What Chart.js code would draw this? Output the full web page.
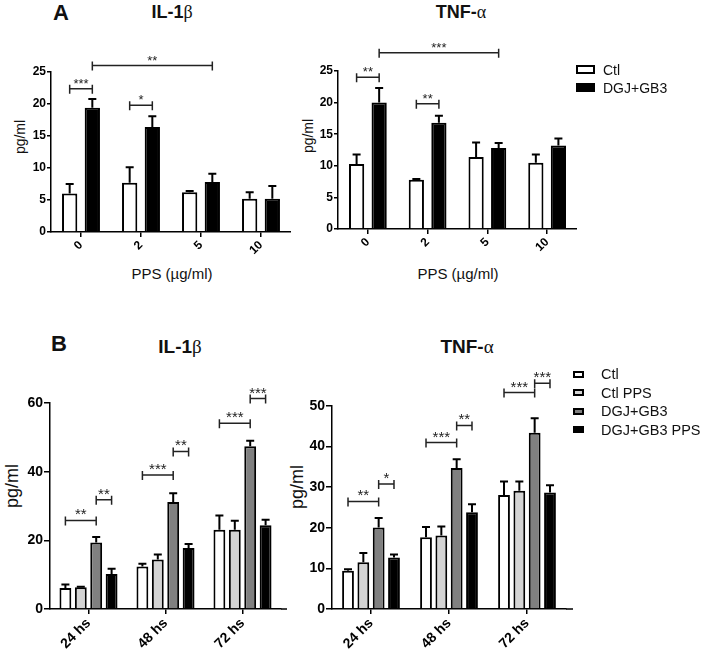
<!DOCTYPE html>
<html>
<head>
<meta charset="utf-8">
<script src="https://cdn.jsdelivr.net/npm/chart.js@4.4.1/dist/chart.umd.min.js"></script>
<style>
  body { margin: 0; background: #fff; width: 710px; height: 657px; position: relative; overflow: hidden;
         font-family: "Liberation Sans", Arial, sans-serif; color: #111; }
  .panel { position: absolute; }
  .t { position: absolute; white-space: nowrap; transform: translate(-50%, -50%); line-height: 1; }
  .rot { transform: translate(-50%, -50%) rotate(-90deg); }
  .b { font-weight: bold; }
  .g { font-family: "Liberation Serif", "DejaVu Serif", serif; font-weight: normal; }
  .leg { position: absolute; font-size: 14px; }
  .leg div { position: absolute; white-space: nowrap; }
  .sw { position: absolute; box-sizing: border-box; border: 2px solid #000; }
</style>
</head>
<body>

<div class="t b" style="left:61px;top:13px;font-size:22px">A</div>
<div class="t b" style="left:172px;top:12px;font-size:18px">IL-1<span class="g">β</span></div>
<div class="t b" style="left:461px;top:12px;font-size:18px">TNF-<span class="g">α</span></div>
<div class="t rot" style="left:20px;top:137px;font-size:14px">pg/ml</div>
<div class="t rot" style="left:308px;top:136px;font-size:14px">pg/ml</div>
<div class="t" style="left:172px;top:273px;font-size:15px">PPS (µg/ml)</div>
<div class="t" style="left:458px;top:273px;font-size:15px">PPS (µg/ml)</div>

<div class="t b" style="left:59px;top:344px;font-size:22px">B</div>
<div class="t b" style="left:180px;top:346px;font-size:19px">IL-1<span class="g">β</span></div>
<div class="t b" style="left:467px;top:346px;font-size:19px">TNF-<span class="g">α</span></div>
<div class="t rot" style="left:12px;top:486px;font-size:18px">pg/ml</div>
<div class="t rot" style="left:297px;top:487px;font-size:18px">pg/ml</div>

<div class="panel" style="left:0;top:0"><canvas id="il1Dose" width="291" height="262"></canvas></div>
<div class="panel" style="left:288px;top:0"><canvas id="tnfDose" width="289" height="259"></canvas></div>
<div class="panel" style="left:0;top:330px"><canvas id="il1Time" width="290" height="327"></canvas></div>
<div class="panel" style="left:282px;top:330px"><canvas id="tnfTime" width="297" height="327"></canvas></div>

<div class="leg" id="legA"></div>
<div class="leg" id="legB"></div>

<script>
// categories
const doseLabels = ['0', '2', '5', '10'];
const timeLabels = ['24 hs', '48 hs', '72 hs'];
const seriesA = ['Ctl', 'DGJ+GB3'];
const seriesB = ['Ctl', 'Ctl PPS', 'DGJ+GB3', 'DGJ+GB3 PPS'];

// A - IL-1b (mean, sem)
const il1DoseCtl = [6.0, 7.7, 6.2, 5.2];
const il1DoseCtlErr = [1.5, 2.4, 0.2, 1.0];
const il1DoseDgj = [19.4, 16.4, 7.8, 5.2];
const il1DoseDgjErr = [1.4, 1.7, 1.3, 2.0];

// A - TNF-a
const tnfDoseCtl = [10.3, 7.8, 11.4, 10.5];
const tnfDoseCtlErr = [1.5, 0.1, 2.3, 1.3];
const tnfDoseDgj = [20.0, 16.8, 12.8, 13.2];
const tnfDoseDgjErr = [2.3, 1.1, 0.8, 1.1];

// B - IL-1b
const il1TimeCtl = [6.1, 12.4, 23.1];
const il1TimeCtlErr = [1.0, 0.8, 4.1];
const il1TimeCtlPps = [6.3, 14.4, 23.1];
const il1TimeCtlPpsErr = [0.2, 1.5, 2.6];
const il1TimeDgj = [19.4, 31.2, 47.4];
const il1TimeDgjErr = [1.6, 2.5, 1.6];
const il1TimeDgjPps = [10.2, 17.8, 24.4];
const il1TimeDgjPpsErr = [1.5, 1.1, 1.6];

// B - TNF-a
const tnfTimeCtl = [9.4, 17.7, 28.1];
const tnfTimeCtlErr = [0.4, 2.5, 3.3];
const tnfTimeCtlPps = [11.5, 18.1, 29.1];
const tnfTimeCtlPpsErr = [2.3, 2.2, 2.3];
const tnfTimeDgj = [20.1, 34.7, 43.4];
const tnfTimeDgjErr = [2.3, 2.2, 3.6];
const tnfTimeDgjPps = [12.7, 23.8, 28.7];
const tnfTimeDgjPpsErr = [0.7, 2.0, 1.8];

// significance: [group1, series1, group2, series2, height, label]
const il1DoseSig = [[0, 0, 0, 1, 22.4, '***'], [1, 0, 1, 1, 19.8, '*'], [0, 1, 2, 1, 26.0, '**']];
const tnfDoseSig = [[0, 0, 0, 1, 24.0, '**'], [1, 0, 1, 1, 19.8, '**'], [0, 1, 2, 1, 27.9, '***']];
const il1TimeSig = [[0, 0, 0, 2, 25.8, '**'], [0, 2, 0, 3, 31.8, '**'], [1, 0, 1, 2, 39.0, '***'],
                    [1, 2, 1, 3, 45.9, '**'], [2, 0, 2, 2, 54.1, '***'], [2, 2, 2, 3, 61.3, '***']];
const tnfTimeSig = [[0, 0, 0, 2, 26.5, '**'], [0, 2, 0, 3, 30.8, '*'], [1, 0, 1, 2, 41.0, '***'],
                    [1, 2, 1, 3, 45.2, '**'], [2, 0, 2, 2, 53.3, '***'], [2, 2, 2, 3, 55.6, '***']];

const coloursA = ['#ffffff', '#000000'];
const coloursB = ['#ffffff', '#d4d4d4', '#808080', '#000000'];

// error bars (upper only)
const errorBars = {
  id: 'errorBars',
  afterDatasetsDraw(chart) {
    const ctx = chart.ctx;
    const y = chart.scales.y;
    ctx.save();
    ctx.strokeStyle = '#000';
    ctx.lineWidth = 2;
    chart.data.datasets.forEach((ds, i) => {
      chart.getDatasetMeta(i).data.forEach((bar, j) => {
        const top = y.getPixelForValue(ds.data[j] + ds.err[j]);
        ctx.beginPath();
        ctx.moveTo(bar.x, bar.y);
        ctx.lineTo(bar.x, top);
        ctx.moveTo(bar.x - 4, top);
        ctx.lineTo(bar.x + 4, top);
        ctx.stroke();
      });
    });
    ctx.restore();
  }
};

// significance brackets + small x axis overhang
const brackets = {
  id: 'brackets',
  afterDraw(chart, args, opts) {
    const ctx = chart.ctx;
    const y = chart.scales.y;
    ctx.save();
    ctx.strokeStyle = '#222';
    ctx.fillStyle = '#222';
    ctx.lineWidth = 1.5;
    ctx.font = opts.size + 'px "Liberation Sans", Arial';
    ctx.textAlign = 'center';
    ctx.textBaseline = 'alphabetic';
    (opts.sig || []).forEach(s => {
      const x1 = chart.getDatasetMeta(s[1]).data[s[0]].x;
      const x2 = chart.getDatasetMeta(s[3]).data[s[2]].x;
      const py = y.getPixelForValue(s[4]);
      ctx.beginPath();
      ctx.moveTo(x1, py); ctx.lineTo(x2, py);
      ctx.moveTo(x1, py - 4); ctx.lineTo(x1, py + 5);
      ctx.moveTo(x2, py - 4); ctx.lineTo(x2, py + 5);
      ctx.stroke();
      ctx.fillText(s[5], (x1 + x2) / 2, py - 1);
    });
    if (opts.overhang) {
      const a = chart.chartArea;
      ctx.strokeStyle = '#000';
      ctx.beginPath();
      ctx.moveTo(a.right, a.bottom); ctx.lineTo(a.right + opts.overhang, a.bottom);
      ctx.stroke();
    }
    ctx.restore();
  }
};

function makeChart(id, labels, names, colours, values, errs, cfg) {
  return new Chart(document.getElementById(id), {
    type: 'bar',
    data: {
      labels: labels,
      datasets: names.map((n, i) => ({
        label: n,
        data: values[i],
        err: errs[i],
        backgroundColor: colours[i],
        borderColor: '#000',
        borderWidth: 2,
        categoryPercentage: cfg.catPct,
        barPercentage: cfg.barPct
      }))
    },
    options: {
      responsive: false,
      animation: false,
      devicePixelRatio: 1,
      layout: { padding: { top: cfg.padTop, right: cfg.padRight || 0, left: 0, bottom: 0 } },
      plugins: {
        legend: { display: false },
        tooltip: { enabled: false },
        brackets: { sig: cfg.sig, size: cfg.starSize, overhang: cfg.overhang }
      },
      scales: {
        x: {
          grid: { display: true, drawOnChartArea: false, offset: false, color: '#000', lineWidth: 1.5, tickLength: 5 },
          border: { color: '#000', width: 1.5 },
          ticks: { color: '#000', font: { size: cfg.xFont, weight: 'bold', family: '"Liberation Sans", Arial' },
                   minRotation: 45, maxRotation: 45, padding: 1 },
          afterFit: s => { s.height = cfg.xh; }
        },
        y: {
          min: 0,
          max: cfg.max,
          grid: { drawOnChartArea: false, color: '#000', lineWidth: 1.5, tickLength: cfg.yTick },
          border: { color: '#000', width: 1.5 },
          ticks: { stepSize: cfg.step, color: '#000', padding: 1,
                   font: { size: cfg.yFont, weight: 'bold', family: '"Liberation Sans", Arial' } },
          afterFit: s => { s.width = cfg.yw; }
        }
      }
    },
    plugins: [errorBars, brackets]
  });
}

const aCfg = { catPct: 0.755, barPct: 0.675, xFont: 12, yFont: 12, yTick: 4, xh: 30, starSize: 13, max: 25, step: 5 };
makeChart('il1Dose', doseLabels, seriesA, coloursA,
  [il1DoseCtl, il1DoseDgj], [il1DoseCtlErr, il1DoseDgjErr],
  Object.assign({}, aCfg, { padTop: 72, yw: 51, sig: il1DoseSig }));
makeChart('tnfDose', doseLabels, seriesA, coloursA,
  [tnfDoseCtl, tnfDoseDgj], [tnfDoseCtlErr, tnfDoseDgjErr],
  Object.assign({}, aCfg, { padTop: 71, yw: 50, sig: tnfDoseSig }));

const bCfg = { xFont: 14, yFont: 14, yTick: 6, xh: 48, starSize: 15, barPct: 0.77 };
makeChart('il1Time', timeLabels, seriesB, coloursB,
  [il1TimeCtl, il1TimeCtlPps, il1TimeDgj, il1TimeDgjPps],
  [il1TimeCtlErr, il1TimeCtlPpsErr, il1TimeDgjErr, il1TimeDgjPpsErr],
  Object.assign({}, bCfg, { catPct: 0.8, padTop: 73, padRight: 9, yw: 50, max: 60, step: 20, sig: il1TimeSig, overhang: 6 }));
makeChart('tnfTime', timeLabels, seriesB, coloursB,
  [tnfTimeCtl, tnfTimeCtlPps, tnfTimeDgj, tnfTimeDgjPps],
  [tnfTimeCtlErr, tnfTimeCtlPpsErr, tnfTimeDgjErr, tnfTimeDgjPpsErr],
  Object.assign({}, bCfg, { catPct: 0.786, padTop: 76, padRight: 13, yw: 50, max: 50, step: 10, sig: tnfTimeSig, overhang: 7 }));

// legends
function makeLegend(id, names, colours, x, textX, rows, w, h, size) {
  const el = document.getElementById(id);
  el.style.fontSize = size + 'px';
  names.forEach((n, i) => {
    const sw = document.createElement('div');
    sw.className = 'sw';
    sw.style.cssText = `left:${x}px;top:${rows[i] - h / 2}px;width:${w}px;height:${h}px;background:${colours[i]}`;
    el.appendChild(sw);
    const tx = document.createElement('div');
    tx.textContent = n;
    tx.style.cssText = `left:${textX}px;top:${rows[i]}px;transform:translateY(-50%);line-height:1`;
    el.appendChild(tx);
  });
}
makeLegend('legA', seriesA, coloursA, 576, 603, [69.5, 87.7], 19, 9, 14);
makeLegend('legB', seriesB, coloursB, 573, 601, [374, 392.5, 411, 429.5], 11, 7, 14.5);
</script>
</body>
</html>
